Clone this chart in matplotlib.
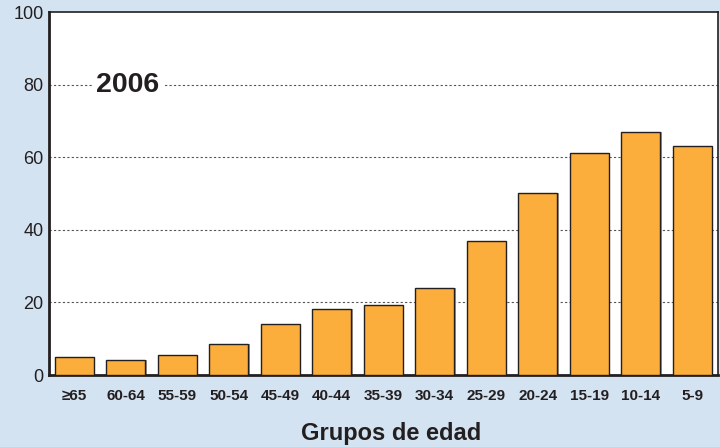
import numpy as np
import matplotlib.pyplot as plt

plt.rcParams['font.family'] = ['Liberation Sans', 'DejaVu Sans']

grupos = ['≥65', '60-64', '55-59', '50-54', '45-49', '40-44', '35-39',
          '30-34', '25-29', '20-24', '15-19', '10-14', '5-9']
valores = [5.0, 4.1, 5.5, 8.5, 14.0, 18.1, 19.4, 23.9, 36.9, 50.1, 61.1, 66.9, 63.2]
anio = '2006'

fondo = '#D4E3F2'
naranja = '#FBAE3C'
oscuro = '#231F20'

fig = plt.figure(figsize=(7.2, 4.47), dpi=100, facecolor=fondo)
ax = fig.add_axes([0.068, 0.161, 0.929, 0.812])
ax.set_facecolor('white')

x = np.arange(len(grupos))
# sombra gris detras de cada barra
ax.bar(x + 0.03, valores, width=0.76, color='#9A9A9A', zorder=2)
ax.bar(x, valores, width=0.76, color=naranja, edgecolor=oscuro,
       linewidth=1.0, zorder=3)

ax.set_xlim(-0.49, 12.5)
ax.set_ylim(0, 100)
ax.set_yticks([0, 20, 40, 60, 80, 100])
ax.set_xticks(x)
ax.set_xticklabels(grupos, fontsize=11, fontweight='bold', color=oscuro)
ax.tick_params(axis='y', labelsize=13, length=0, pad=4, labelcolor=oscuro)
ax.tick_params(axis='x', length=0, pad=10)

for yv in [20, 40, 60, 80]:
    ax.axhline(yv, color='#555555', linestyle=(0, (2, 2)), linewidth=0.8, zorder=1)

for lado in ['left', 'bottom']:
    ax.spines[lado].set_linewidth(2.0)
    ax.spines[lado].set_color(oscuro)
for lado in ['top', 'right']:
    ax.spines[lado].set_linewidth(1.2)
    ax.spines[lado].set_color(oscuro)

ax.text(0.43, 80, anio, fontsize=20.5, fontweight='bold', color=oscuro,
        ha='left', va='center', zorder=4,
        bbox=dict(facecolor='white', edgecolor='none', pad=3))

ax.set_xlabel('Grupos de edad', fontsize=17, fontweight='bold',
              color=oscuro, labelpad=12)
ax.xaxis.set_label_coords(0.511, -0.13)

fig.savefig('out.png', dpi=100, facecolor=fondo)
